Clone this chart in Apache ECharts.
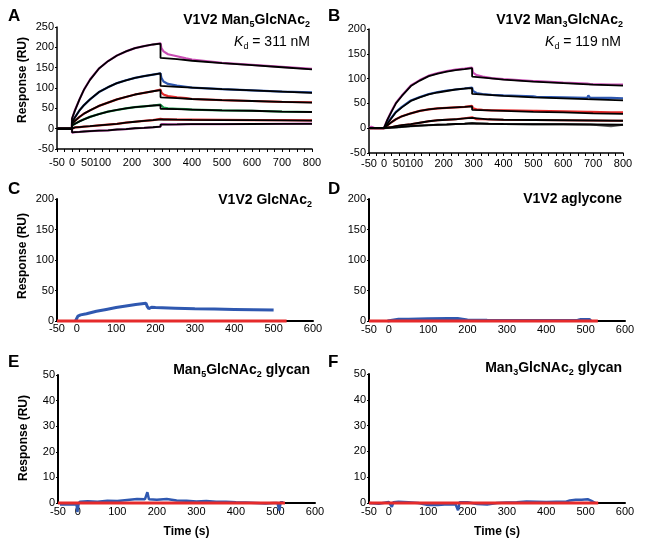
<!DOCTYPE html>
<html><head><meta charset="utf-8">
<script src="https://cdn.jsdelivr.net/npm/echarts@6/dist/echarts.min.js"></script>
<style>html,body{margin:0;padding:0;background:#fff}#c{width:649px;height:546px}</style>
</head><body><div id="c"></div>
<script>
// ---------- tick labels ----------
const abXLabels = [-50, 0, 50, 100, 200, 300, 400, 500, 600, 700, 800];
const cfXLabels = [-50, 0, 100, 200, 300, 400, 500, 600];

// ---------- Panel A (V1V2 Man5GlcNAc2) ----------
const A_t_fit = [-50, 0, 0, 10, 25, 40, 60, 90, 120, 150, 180, 210, 240, 270, 295, 295, 350, 400, 500, 600, 700, 800];
const A_fit1 = [0, 0, 25, 45, 72, 96, 120, 148, 166, 180, 190, 198, 203, 207, 209, 174, 171, 167, 161, 156, 151, 146];
const A_fit2 = [0, 0, 15, 28, 45, 58, 72, 90, 102, 112, 119, 125, 129, 133, 136, 105, 103, 101, 97, 94, 91, 88];
const A_fit3 = [0, 0, 12, 19, 29, 37, 45, 56, 64, 72, 78, 84, 88, 92, 95, 77, 75, 73, 70, 68, 66, 64];
const A_fit4 = [0, 0, 8, 12, 18, 23, 29, 36, 42, 46, 50, 53, 55, 57, 58, 49, 48, 47, 45, 44, 42, 41];
const A_fit5 = [0, 0, 2, 3, 4, 5, 6, 8, 10, 12, 15, 17, 19, 21, 23, 22, 22, 21.5, 21, 21, 20.5, 20];
const A_fit6 = [0, 0, -9, -8.5, -8, -7, -6, -5, -4, -2, -1, 1, 2, 3.5, 5, 10, 10.5, 11, 11, 11.5, 12, 12];

const A_t_data = [-50, -20, 0, 0, 10, 25, 40, 60, 90, 120, 150, 180, 210, 240, 270, 295, 298, 305, 320, 350, 380, 400, 500, 600, 700, 800];
const A_d1 = [0, 0, 0, 24, 46, 72, 96, 121, 148, 166, 180, 190, 198, 203, 207, 210, 198, 190, 183, 178, 173, 170, 162, 157, 152, 147];
const A_d2 = [0, 0, 0, 15, 28, 45, 58, 72, 90, 102, 112, 119, 125, 129, 133, 136, 125, 116, 110, 106, 103, 101, 97, 94, 91, 89];
const A_d3 = [0, 0, 0, 12, 19, 29, 37, 45, 56, 64, 72, 78, 84, 88, 92, 96, 89, 84, 80, 77, 75, 73, 70, 68, 66, 65];
const A_d4 = [0, 0, 0, 8, 12, 18, 23, 29, 36, 42, 46, 50, 53, 55, 57, 59, 55, 52, 50, 49, 48, 47, 45, 44, 42, 41];
const A_d5 = [0, 0, 0, 2, 3, 4, 5, 6, 8, 10, 12, 15, 17, 19, 21, 24, 24, 23, 23, 22, 22, 22, 21.5, 21, 21, 20.5];
const A_d6 = [0, 0, 0, -10, -8.5, -8, -7, -6, -5, -4, -2, -1, 1, 2, 3.5, 5, 11, 11, 10.5, 10.5, 11, 11, 11, 11.5, 12, 12.5];

// ---------- Panel B (V1V2 Man3GlcNAc2) ----------
const B_t_fit = [-50, 0, 10, 25, 40, 60, 90, 120, 150, 180, 210, 240, 270, 295, 295, 350, 400, 500, 600, 700, 800];
const B_fit1 = [0, 0, 15, 33, 50, 65, 85, 96, 105, 110, 114, 117, 119, 121, 104, 101, 98, 94, 91, 88, 86];
const B_fit2 = [0, 0, 8, 20, 32, 42, 55, 62, 68, 72, 75, 78, 80, 81, 69, 67, 65, 62, 60, 58, 56];
const B_fit3 = [0, 0, 5, 12, 18, 24, 30, 35, 38, 40, 41, 42, 43, 44, 37, 36, 35, 33, 32, 30, 29];
const B_fit4 = [0, 0, 1, 2, 4, 6, 8, 11, 14, 16, 17, 18, 20, 21, 18, 18, 17, 16.5, 16, 15.5, 15];
const B_fit5 = [0, 0, 0.5, 1, 1.5, 2.5, 4, 5, 6, 7, 7.5, 8.5, 9, 10, 9, 9, 8.5, 8, 8, 7.5, 7];

const B_t_data = [-50, -42, -38, -30, 0, 10, 25, 40, 60, 90, 120, 150, 180, 210, 240, 270, 295, 298, 310, 330, 360, 400, 500, 505, 510, 600, 680, 684, 690, 760, 800];
const B_d1 = [0, 3, 0, 0, 0, 15, 34, 51, 66, 86, 97, 106, 111, 115, 118, 120, 122, 112, 107, 104, 101, 99, 95, 99, 95, 92, 90, 90, 89, 88, 88];
const B_d2 = [0, 0, 0, 0, 0, 9, 21, 33, 43, 56, 63, 69, 73, 76, 78, 80, 82, 75, 71, 69, 67, 66, 64, 67, 63, 62, 61, 66, 61, 61, 60];
const B_d3 = [0, 0, 0, 0, 0, 5, 12, 18, 24, 30, 35, 38, 40, 41, 42, 43, 45, 40, 38, 37, 36, 36, 35, 38, 35, 34, 33, 33, 33, 32, 32];
const B_d4 = [0, 0, 0, 0, 0, 1, 2, 4, 6, 8, 11, 14, 16, 17, 18, 20, 22, 19, 18, 18, 17.5, 17, 16.5, 19, 16.5, 16, 15.5, 15.5, 15.5, 15, 15];
const B_d5 = [0, 0, 0, 0, 0, 0.5, 1, 1.5, 2.5, 4, 5, 6, 7, 7.5, 8.5, 9, 10, 9.5, 9, 9, 8.5, 8.5, 8, 8, 8, 8, 7.5, 7.5, 7.5, 4, 7];

// ---------- Panel C (V1V2 GlcNAc2) ----------
const C_blue_t = [-3, 0, 3, 10, 25, 50, 75, 100, 125, 150, 176, 179, 183, 190, 200, 250, 300, 350, 400, 450, 500];
const C_blue_v = [0, 2, 8, 10, 12, 16, 19, 22, 24.5, 27, 29, 24, 20, 22.5, 22, 21, 20, 19.5, 19, 18.5, 18];
const C_red_t = [-50, 533];
const C_red_v = [0, 0];

// ---------- Panel D (V1V2 aglycone) ----------
const D_blue_t = [-3, 0, 25, 50, 100, 150, 175, 180, 200, 250, 300, 400, 480, 488, 510, 513];
const D_blue_v = [0, 2.5, 3, 3, 3.5, 4, 4, 1.5, 1.5, 1.2, 1, 1, 1.2, 2.5, 2.5, 0];
const D_red_t = [-50, 531];
const D_red_v = [0, 0];

// ---------- Panel E (Man5GlcNAc2 glycan) ----------
const E_blue_t = [-45, -20, -3, -1, 2, 5, 25, 50, 75, 100, 125, 150, 170, 176, 180, 200, 225, 250, 275, 300, 325, 350, 375, 400, 425, 450, 475, 495, 505, 510, 513, 520];
const E_blue_v = [-0.6, -0.5, -0.6, -3.5, -0.5, 0.5, 0.7, 0.5, 0.9, 0.8, 1.2, 1.6, 1.5, 4.2, 1.5, 1.3, 1.6, 1.0, 0.9, 0.6, 0.8, 0.5, 0.5, 0.3, 0.2, 0.0, -0.2, 0.0, 0, -3, 0.3, 0.3];
const E_red_t = [-50, 524];
const E_red_v = [0, 0];

// ---------- Panel F (Man3GlcNAc2 glycan) ----------
const F_blue_t = [-50, -25, 0, 8, 12, 25, 50, 75, 100, 125, 150, 170, 176, 180, 200, 225, 250, 275, 300, 325, 350, 375, 400, 425, 450, 460, 475, 490, 505, 515, 525];
const F_blue_v = [0, -0.3, 0.4, -1.5, 0.3, 0.5, 0.3, 0, -0.8, -0.8, -0.5, -0.6, -2.8, 0.3, 0.3, -0.4, -0.6, 0, 0.2, 0.3, 0.6, 0.5, 0.4, 0.5, 0.5, 1.0, 1.3, 1.3, 1.5, 0.8, 0];
const F_red_t = [-50, 532];
const F_red_v = [0, 0];

// ---------- styling / building ----------
const FF = 'Liberation Sans, Arial, Helvetica, sans-serif';
const MAG = '#c94db3', BLU = '#2f58b0', RED = '#e52a2b', GRN = '#1c9a4c', BLK = '#000';

const pairs = (t, v) => t.map((x, i) => [x, v[i]]);
function line(gi, t, v, color, width, z) {
  return { type: 'line', xAxisIndex: gi, yAxisIndex: gi, data: pairs(t, v), symbol: 'none',
    lineStyle: { color, width }, itemStyle: { color }, clip: false, z, silent: true };
}

const grids = [
  { left: 57, top: 27, width: 255, height: 122 },
  { left: 369, top: 29, width: 254, height: 124 },
  { left: 57, top: 199, width: 256, height: 122 },
  { left: 369, top: 199, width: 256, height: 122 },
  { left: 58, top: 375, width: 257, height: 128 },
  { left: 369, top: 374, width: 256, height: 129 }
];

function xAx(gi, isAB, margin, name) {
  const labels = isAB ? abXLabels : cfXLabels;
  return {
    type: 'value', gridIndex: gi, min: -50, max: isAB ? 800 : 600, interval: isAB ? 25 : 50,
    axisLine: { onZero: false, lineStyle: { color: BLK, width: isAB ? 1.5 : 2 } },
    axisTick: { show: isAB, length: 3, lineStyle: { color: BLK, width: 1 } },
    splitLine: { show: false },
    axisLabel: { margin, color: BLK, fontSize: 11, fontFamily: FF,
      formatter: v => labels.indexOf(v) >= 0 ? String(v) : '' },
    name: name || '', nameLocation: 'middle', nameGap: 23,
    nameTextStyle: { fontSize: 12, fontWeight: 'bold', color: BLK, fontFamily: FF }
  };
}
function yAx(gi, min, max, interval, name, w, shift) {
  return {
    type: 'value', gridIndex: gi, min, max, interval,
    axisLine: { onZero: false, lineStyle: { color: BLK, width: w } },
    axisTick: { show: true, length: 2, lineStyle: { color: BLK, width: 1 } },
    splitLine: { show: false },
    axisLabel: { margin: 3, color: BLK, fontSize: 11, fontFamily: FF },
    name: name || '', nameLocation: 'middle', nameGap: 28, nameRotate: 90,
    nameTextStyle: { fontSize: 12, fontWeight: 'bold', color: BLK, fontFamily: FF,
      padding: [0, 0, 0, shift || 0] }
  };
}

const rich = {
  b: { fontSize: 14, fontWeight: 'bold', lineHeight: 18, fontFamily: FF, color: BLK },
  bs: { fontSize: 9, fontWeight: 'bold', lineHeight: 10, verticalAlign: 'bottom', fontFamily: FF, color: BLK },
  r: { fontSize: 14, fontWeight: 'normal', lineHeight: 18, fontFamily: FF, color: BLK },
  k: { fontSize: 14, fontWeight: 'normal', fontStyle: 'italic', lineHeight: 18, fontFamily: FF, color: BLK },
  rs: { fontSize: 9, fontWeight: 'normal', lineHeight: 10, verticalAlign: 'bottom', fontFamily: FF, color: BLK }
};
const tt = (text, pos) => Object.assign({ text, padding: 0, textStyle: { rich, fontSize: 14, fontWeight: 'normal', fontFamily: FF } }, pos);
const letter = (text, left, top) => ({ text, left, top, padding: 0,
  textStyle: { fontSize: 17, fontWeight: 'bold', lineHeight: 20, color: BLK, fontFamily: FF } });

const titles = [
  letter('A', 8, 6), letter('B', 328, 6), letter('C', 8, 179), letter('D', 328, 179), letter('E', 8, 352), letter('F', 328, 352),
  tt('{b|V1V2 Man}{bs|5}{b|GlcNAc}{bs|2}', { right: 339, top: 11 }),
  tt('{k|K}{rs|d}{r| = 311 nM}', { right: 339, top: 33 }),
  tt('{b|V1V2 Man}{bs|3}{b|GlcNAc}{bs|2}', { right: 26, top: 11 }),
  tt('{k|K}{rs|d}{r| = 119 nM}', { right: 28, top: 33 }),
  tt('{b|V1V2 GlcNAc}{bs|2}', { right: 337, top: 191 }),
  tt('{b|V1V2 aglycone}', { right: 27, top: 190 }),
  tt('{b|Man}{bs|5}{b|GlcNAc}{bs|2}{b| glycan}', { right: 339, top: 361 }),
  tt('{b|Man}{bs|3}{b|GlcNAc}{bs|2}{b| glycan}', { right: 27, top: 359 })
];

const series = [
  // A data (coloured) then fits (black)
  line(0, A_t_data, A_d1, MAG, 2.2, 2), line(0, A_t_data, A_d2, BLU, 2.2, 2), line(0, A_t_data, A_d3, RED, 2.2, 2),
  line(0, A_t_data, A_d4, GRN, 2.2, 2), line(0, A_t_data, A_d5, RED, 2.2, 2), line(0, A_t_data, A_d6, MAG, 2.2, 2),
  line(0, A_t_fit, A_fit1, BLK, 1.8, 3), line(0, A_t_fit, A_fit2, BLK, 1.8, 3), line(0, A_t_fit, A_fit3, BLK, 1.8, 3),
  line(0, A_t_fit, A_fit4, BLK, 1.8, 3), line(0, A_t_fit, A_fit5, BLK, 1.8, 3), line(0, A_t_fit, A_fit6, BLK, 1.8, 3),
  // B
  line(1, B_t_data, B_d1, MAG, 2.2, 2), line(1, B_t_data, B_d2, BLU, 2.2, 2), line(1, B_t_data, B_d3, RED, 2.2, 2),
  line(1, B_t_data, B_d4, RED, 2.2, 2), line(1, B_t_data, B_d5, '#555', 2.2, 2),
  line(1, B_t_fit, B_fit1, BLK, 1.8, 3), line(1, B_t_fit, B_fit2, BLK, 1.8, 3), line(1, B_t_fit, B_fit3, BLK, 1.8, 3),
  line(1, B_t_fit, B_fit4, BLK, 1.8, 3), line(1, B_t_fit, B_fit5, BLK, 1.8, 3),
  // C–F
  line(2, C_blue_t, C_blue_v, BLU, 3, 2), line(2, C_red_t, C_red_v, RED, 3, 3),
  line(3, D_blue_t, D_blue_v, BLU, 3, 2), line(3, D_red_t, D_red_v, RED, 3, 3),
  line(4, E_blue_t, E_blue_v, BLU, 2.5, 2), line(4, E_red_t, E_red_v, RED, 3, 3),
  line(5, F_blue_t, F_blue_v, BLU, 2.5, 2), line(5, F_red_t, F_red_v, RED, 3, 3)
];

const chart = echarts.init(document.getElementById('c'), null, { renderer: 'canvas' });
chart.setOption({
  animation: false,
  backgroundColor: '#fff',
  title: titles,
  grid: grids,
  xAxis: [xAx(0, true, 8), xAx(1, true, 5), xAx(2, false, 2), xAx(3, false, 3), xAx(4, false, 3, 'Time (s)'), xAx(5, false, 3, 'Time (s)')],
  yAxis: [yAx(0, -50, 250, 50, 'Response (RU)', 1.5, 16), yAx(1, -50, 200, 50, '', 1.5), yAx(2, 0, 200, 50, 'Response (RU)', 2, 8),
          yAx(3, 0, 200, 50, '', 2), yAx(4, 0, 50, 10, 'Response (RU)', 2, 2), yAx(5, 0, 50, 10, '', 2)],
  series
});
</script></body></html>
